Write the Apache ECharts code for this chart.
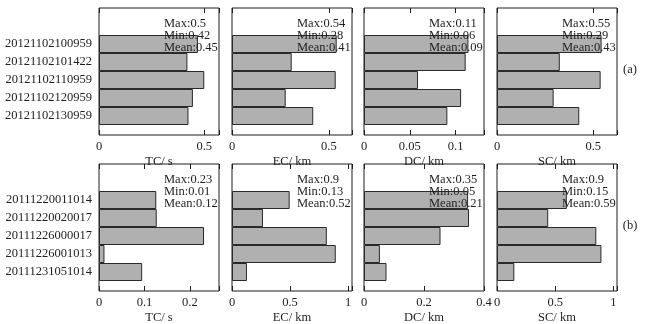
<!DOCTYPE html>
<html>
<head>
<meta charset="utf-8">
<script src="https://cdn.jsdelivr.net/npm/echarts@6/dist/echarts.min.js"></script>
<style>
  html, body { margin: 0; padding: 0; background: #fff; }
  #chart { width: 648px; height: 324px; }
</style>
</head>
<body>
<div id="chart"></div>
<script>
// categories (top to bottom)
const catsA = ['20121102100959', '20121102101422', '20121102110959', '20121102120959', '20121102130959'];
const catsB = ['20111220011014', '20111220020017', '20111226000017', '20111226001013', '20111231051014'];

const metricNames = ['TC/ s', 'EC/ km', 'DC/ km', 'SC/ km'];

// row (a) values
const tcA = [0.47, 0.42, 0.50, 0.446, 0.425];
const ecA = [0.54, 0.308, 0.535, 0.277, 0.419];
const dcA = [0.114, 0.111, 0.059, 0.106, 0.091];
const scA = [0.543, 0.326, 0.538, 0.294, 0.427];

// row (b) values
const tcB = [0.126, 0.127, 0.231, 0.012, 0.095];
const ecB = [0.497, 0.267, 0.817, 0.894, 0.129];
const dcB = [0.347, 0.35, 0.255, 0.053, 0.075];
const scB = [0.60, 0.44, 0.853, 0.897, 0.149];

// axis ranges and tick steps
const maxA = [0.57, 0.619, 0.131, 0.623];
const stepA = [0.5, 0.5, 0.05, 0.5];
const maxB = [0.264, 1.034, 0.4, 1.031];
const stepB = [0.1, 0.5, 0.2, 0.5];

// Max / Min / Mean annotations
const statsA = [['0.5', '0.42', '0.45'], ['0.54', '0.28', '0.41'], ['0.11', '0.06', '0.09'], ['0.55', '0.29', '0.43']];
const statsB = [['0.23', '0.01', '0.12'], ['0.9', '0.13', '0.52'], ['0.35', '0.05', '0.21'], ['0.9', '0.15', '0.59']];

const rows = [
  { cats: catsA, vals: [tcA, ecA, dcA, scA], max: maxA, step: stepA, stats: statsA, tag: '(a)' },
  { cats: catsB, vals: [tcB, ecB, dcB, scB], max: maxB, step: stepB, stats: statsB, tag: '(b)' }
];

const FONT = 'Liberation Serif';
const FS = 12.5;
const INK = '#1e1e1e';
const panelLeft = [99, 232, 364, 497];
const panelW = 120;
const rowTop = [8, 164];
const panelH = 127;

const grid = [], xAxis = [], yAxis = [], series = [], graphic = [];

function tickFmt(step) {
  return (v) => {
    const k = v / step;
    if (Math.abs(k - Math.round(k)) > 1e-6) return '';
    return String(+v.toFixed(4));
  };
}

rows.forEach((row, r) => {
  const top = rowTop[r];
  row.vals.forEach((vals, c) => {
    const left = panelLeft[c];
    // frame grid with axes
    const gF = grid.length;
    grid.push({ left, top, width: panelW, height: panelH, show: true,
      borderColor: INK, borderWidth: 1, backgroundColor: 'transparent', outerBoundsMode: 'none' });
    xAxis.push({
      gridIndex: gF, type: 'value', position: 'bottom', min: 0, max: row.max[c], interval: row.step[c],
      name: metricNames[c], nameLocation: 'middle', nameGap: 20, nameMoveOverlap: false,
      nameTextStyle: { fontFamily: FONT, fontSize: FS, color: INK },
      axisLine: { show: false }, splitLine: { show: false },
      axisTick: { show: true, inside: true, length: 5, lineStyle: { color: INK } },
      axisLabel: { show: true, margin: 5, fontFamily: FONT, fontSize: FS, color: INK,
        formatter: tickFmt(row.step[c]), showMaxLabel: true, hideOverlap: false }
    });
    xAxis.push({
      gridIndex: gF, type: 'value', position: 'top', min: 0, max: row.max[c], interval: row.step[c],
      axisLine: { show: false }, splitLine: { show: false }, axisLabel: { show: false },
      axisTick: { show: true, inside: true, length: 5, lineStyle: { color: INK } }
    });
    yAxis.push({ gridIndex: gF, type: 'value', show: false, min: 0, max: 1 });

    // bar grid
    const gB = grid.length;
    grid.push({ left, top: top + 27, width: panelW, height: 90, outerBoundsMode: 'none' });
    const xi = xAxis.length;
    xAxis.push({ gridIndex: gB, type: 'value', min: 0, max: row.max[c], show: false });
    const yi = yAxis.length;
    yAxis.push({
      gridIndex: gB, type: 'category', data: row.cats, inverse: true,
      axisLine: { show: false }, axisTick: { show: false }, splitLine: { show: false },
      axisLabel: { show: c === 0, margin: 7, fontFamily: FONT, fontSize: FS, color: INK }
    });
    series.push({
      type: 'bar', xAxisIndex: xi, yAxisIndex: yi, data: vals,
      barCategoryGap: 0, silent: true, z: 1,
      itemStyle: { color: '#b0b0b0', borderColor: '#2a2a2a', borderWidth: 1 }
    });

    // stats text
    const lab = ['Max:', 'Min:', 'Mean:'];
    row.stats[c].forEach((s, i) => {
      graphic.push({
        type: 'text', z: 100, x: left + panelW - 55, y: top + 16 + i * 12,
        style: { text: lab[i] + s, font: FS + 'px "' + FONT + '"', fill: INK,
          textAlign: 'left', textVerticalAlign: 'middle', verticalAlign: 'middle' }
      });
    });
  });
  graphic.push({
    type: 'text', x: 630, y: top + 62,
    style: { text: row.tag, font: FS + 'px "' + FONT + '"', fill: INK,
      textAlign: 'center', textVerticalAlign: 'middle', verticalAlign: 'middle' }
  });
});

const chart = echarts.init(document.getElementById('chart'), null, { renderer: 'canvas' });
chart.setOption({
  animation: false,
  backgroundColor: '#fff',
  grid, xAxis, yAxis, series, graphic
});
</script>
</body>
</html>
